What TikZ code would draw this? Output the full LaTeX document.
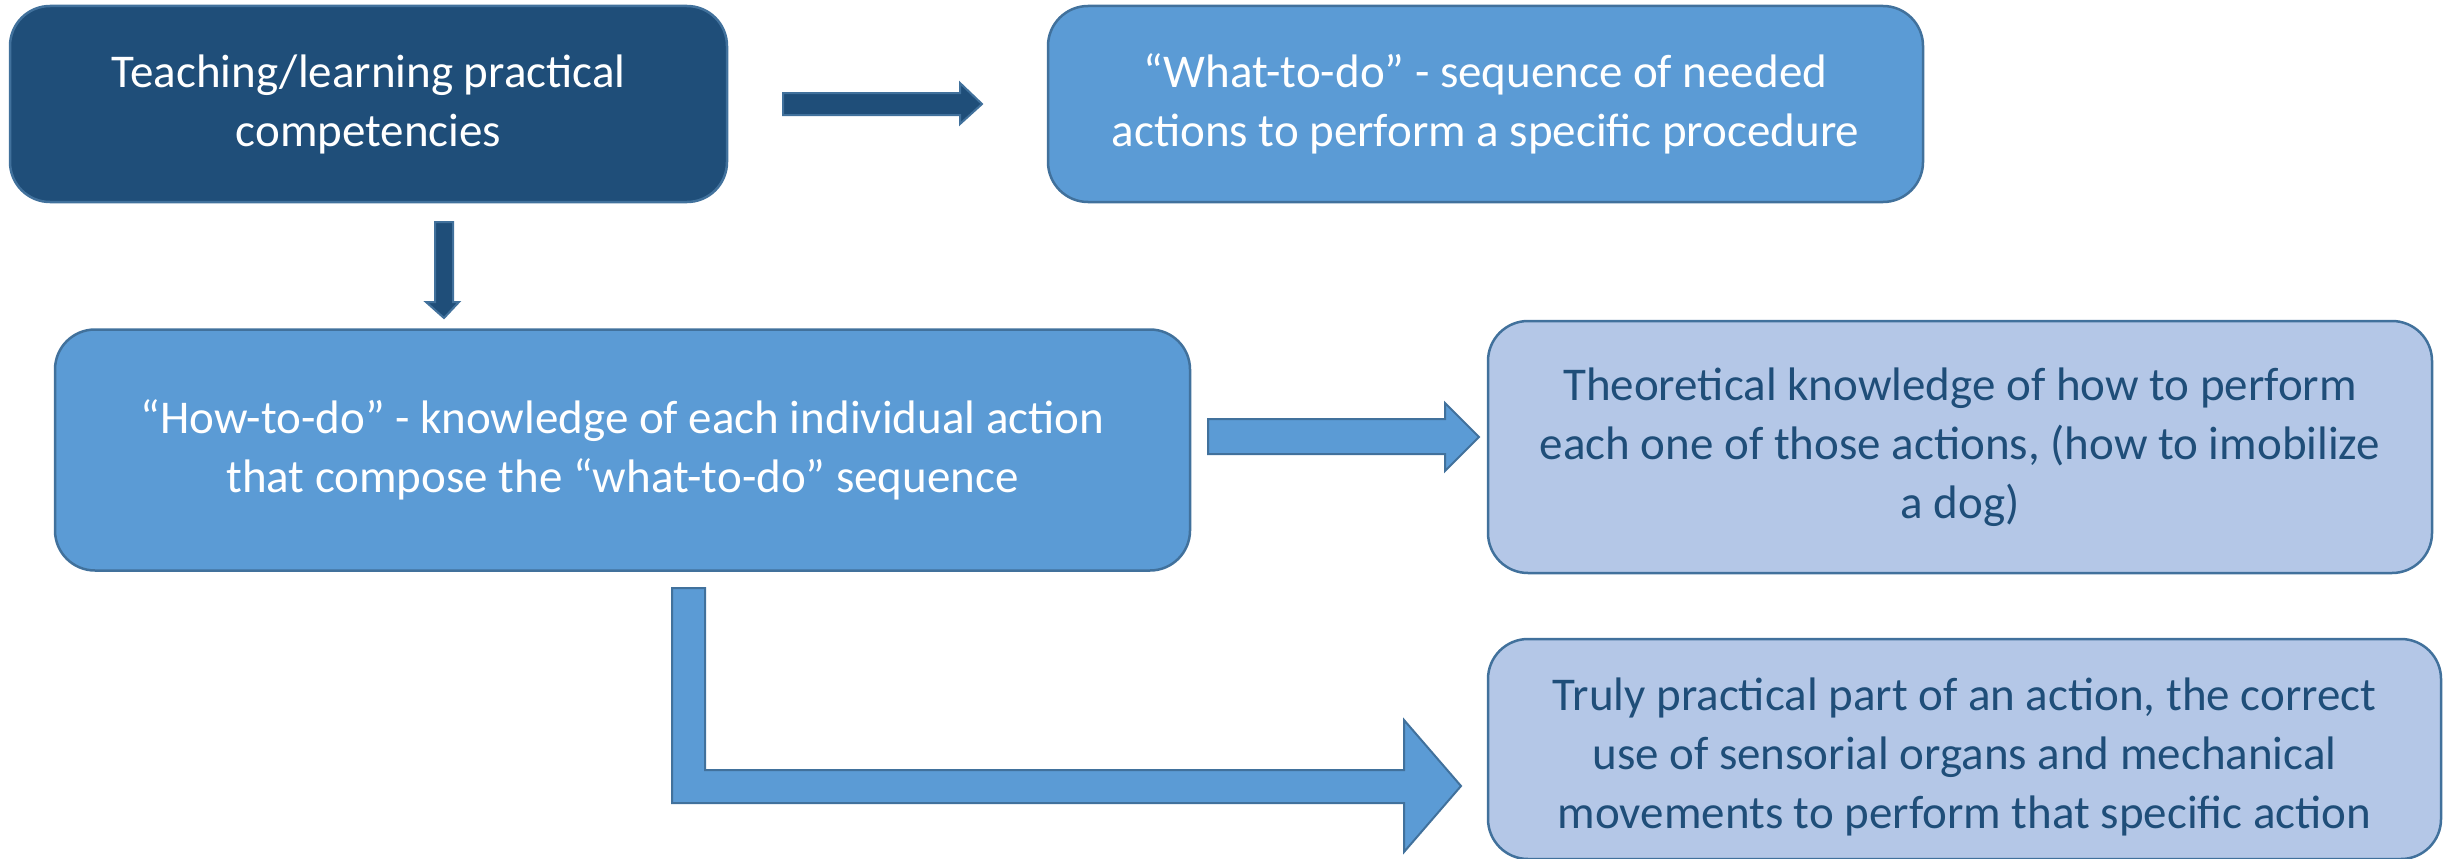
\documentclass[tikz,border=0pt]{standalone}
\usepackage{fontspec}
\setmainfont{Carlito}
\definecolor{darkblue}{HTML}{1F4E79}
\definecolor{midblue}{HTML}{5B9BD5}
\definecolor{lightblue}{HTML}{B4C7E7}
\definecolor{edgeblue}{HTML}{41719C}
\begin{document}
\begin{tikzpicture}[x=1pt,y=-1pt,
  box/.style={draw=edgeblue, line width=2.5pt, rounded corners=40pt, inner sep=0pt,
    align=center, font=\fontsize{47}{59}\selectfont},
  darkbox/.style={box, fill=darkblue, text=white},
  midbox/.style={box, fill=midblue, text=white},
  lightbox/.style={box, fill=lightblue, text=darkblue},
  darkarrow/.style={fill=darkblue, draw=edgeblue, line width=2pt, line join=miter},
  midarrow/.style={fill=midblue, draw=edgeblue, line width=2pt, line join=miter}]
\useasboundingbox (0,0) rectangle (2446,859);
\node[darkbox, minimum width=717pt, minimum height=196pt] (b1) at (368.5,104)
  {Teaching/learning practical\\competencies};
\node[midbox, minimum width=875pt, minimum height=196pt] (b2) at (1485.5,104)
  {“What-to-do” - sequence of needed\\actions to perform a specific procedure};
\node[midbox, minimum width=1135pt, minimum height=241pt] (b3) at (622.5,450)
  {“How-to-do” - knowledge of each individual action\\that compose the “what-to-do” sequence};
\node[lightbox, minimum width=944pt, minimum height=252pt] (b4) at (1960,447)
  {Theoretical knowledge of how to perform\\each one of those actions, (how to imobilize\\a dog)};
\node[lightbox, minimum width=953pt, minimum height=220pt] (b5) at (1964.5,749)
  {};
\node[text=darkblue, align=center, font=\fontsize{47}{59}\selectfont] (t5) at (1964.5,757)
  {Truly practical part of an action, the correct\\use of sensorial organs and mechanical\\movements to perform that specific action};
% block arrows
\draw[darkarrow] (783,93) -- (960,93) -- (960,83) -- (982,104) -- (960,124) -- (960,115) -- (783,115) -- cycle;
\draw[darkarrow] (435,222) -- (453,222) -- (453,302) -- (459,302) -- (444,318) -- (426,302) -- (435,302) -- cycle;
\draw[midarrow] (1208,419) -- (1445,419) -- (1445,403) -- (1479,437) -- (1445,471) -- (1445,454) -- (1208,454) -- cycle;
\draw[midarrow] (672,588) -- (705,588) -- (705,770) -- (1404,770) -- (1404,720) -- (1461,786) -- (1404,852) -- (1404,803) -- (672,803) -- cycle;
\end{tikzpicture}
\end{document}
